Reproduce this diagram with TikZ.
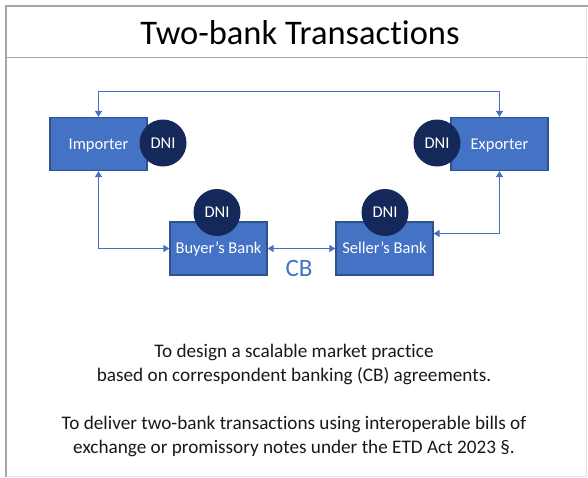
\documentclass[tikz,border=0pt]{standalone}
\usepackage{fontspec}
\setmainfont{Carlito}[Ligatures={NoCommon,NoRare}]
\usetikzlibrary{arrows.meta,positioning,calc}
\definecolor{boxblue}{HTML}{4472C4}
\definecolor{boxedge}{HTML}{2F528F}
\definecolor{navy}{HTML}{14295A}
\definecolor{framegray}{HTML}{A6A6A6}
\definecolor{framelight}{HTML}{E4E4E4}
\tikzset{
  party/.style={draw=boxedge, line width=1.2pt, fill=boxblue, minimum width=97pt, minimum height=53pt, inner sep=0pt, text=white, text height=12pt, text depth=1.5pt, font=\fontsize{16.5}{18}\selectfont},
  dni/.style={circle, fill=navy, minimum size=47pt, inner sep=0pt, text=white, text height=12pt, text depth=1.5pt, font=\fontsize{16.5}{18}\selectfont},
  link/.style={draw=boxblue, line width=1.1pt, {Triangle[width=7pt,length=6pt]}-{Triangle[width=7pt,length=6pt]}},
  bodytext/.style={align=center, font=\fontsize{19.2}{24}\selectfont, text=black!90}
}
\begin{document}
\begin{tikzpicture}[x=1pt,y=-1pt]
\useasboundingbox (0,0) rectangle (588,477);
\fill[white] (0,0) rectangle (588,477);
% frame
\draw[framelight, line width=1pt] (586,6) -- (586,476) -- (6,476);
\draw[framegray, line width=2.5pt] (6,477) -- (6,5.75) -- (588,5.75);
\draw[framegray, line width=1.2pt] (6,57.5) -- (588,57.5);
\node[font=\fontsize{34.5}{38}\selectfont] (title) at (300,32.5) {Two-bank Transactions};
% parties
\node[party] (imp) at (98.5,144) {Importer};
\node[party] (exp) at (499.5,144) {Exporter};
\node[party] (bb) at (218.5,248.5) {Buyer’s Bank};
\node[party] (sb) at (384.5,248.5) {Seller’s Bank};
% DNI circles
\node[dni] (dimp) at (163,143) {DNI};
\node[dni] (dexp) at (437,143) {DNI};
\node[dni] (dbb) at (217,212.5) {DNI};
\node[dni] (dsb) at (385,212.5) {DNI};
% connectors
\draw[link] (imp.north) -- ++(0,-25) -| (exp.north);
\draw[link] (imp.south) |- (bb.west);
\draw[link] (exp.south) |- ([yshift=15pt]sb.east);
\draw[link] (bb.east) -- (sb.west);
\node[text=boxblue, font=\fontsize{25}{28}\selectfont] (cb) at (299,268) {CB};
% texts
\node[bodytext] (goal1) at (294,364) {To design a scalable market practice\\based on correspondent banking (CB) agreements.};
\node[bodytext] (goal2) at (294,436) {To deliver two-bank transactions using interoperable bills of\\exchange or promissory notes under the ETD Act 2023 §.};
\end{tikzpicture}
\end{document}
